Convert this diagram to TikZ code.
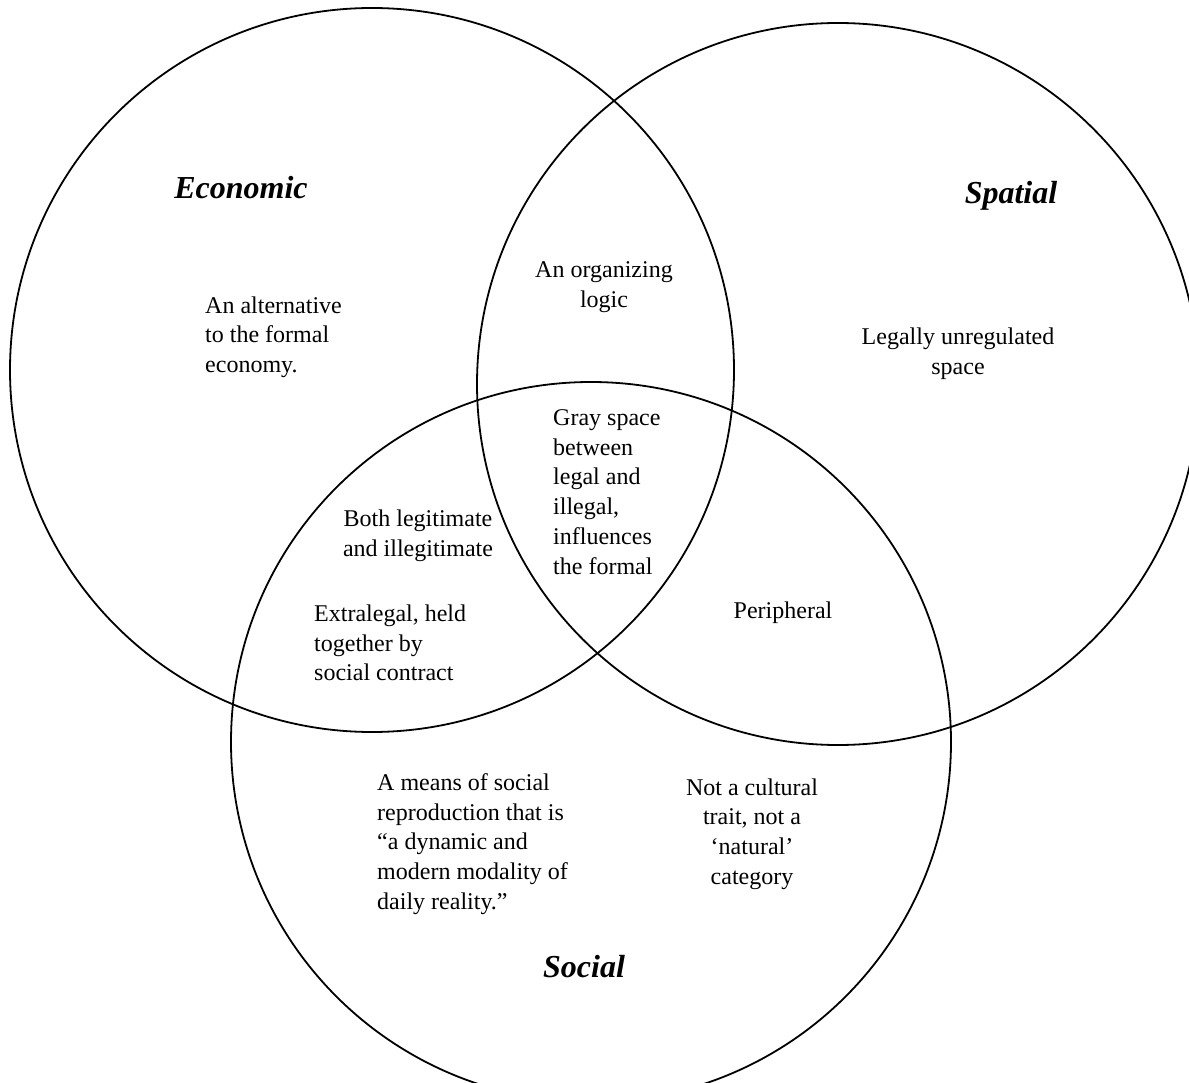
\documentclass[tikz,border=0pt]{standalone}
\usepackage{fontspec}
\setmainfont{Liberation Serif}
\begin{document}
\begin{tikzpicture}[x=1pt,y=-1pt,
  circ/.style={draw, circle, line width=1.8pt, inner sep=0pt},
  txt/.style={font=\fontsize{24}{29.7}\selectfont, inner sep=0pt},
  ttl/.style={font=\fontsize{32}{38}\selectfont\bfseries\itshape, inner sep=0pt}]
\useasboundingbox (0,0) rectangle (1189,1083);
\clip (0,0) rectangle (1189,1083);
\node[circ, minimum size=724pt] (eco) at (372,370) {};
\node[circ, minimum size=722pt] (spa) at (838,384) {};
\node[circ, minimum size=720pt] (soc) at (591,742) {};

\node[ttl] (tEco) at (241,188) {Economic};
\node[ttl] (tSpa) at (1011,196) {Spatial};
\node[ttl] (tSoc) at (584,967) {Social};

\node[txt, align=left, anchor=west] (alt) at (205,337) {An alternative\\to the formal\\economy.};
\node[txt, align=center] (org) at (604,287) {An organizing\\logic};
\node[txt, align=center] (leg) at (958,354) {Legally unregulated\\space};
\node[txt, align=left, anchor=west] (gray) at (553,492) {Gray space\\between\\legal and\\illegal,\\influences\\the formal};
\node[txt, align=center] (both) at (418,536) {Both legitimate\\and illegitimate};
\node[txt, align=left, anchor=west] (extra) at (314,643) {Extralegal, held\\together by\\social contract};
\node[txt] (peri) at (783,613) {Peripheral};
\node[txt, align=left, anchor=west] (means) at (377,844) {A means of social\\reproduction that is\\“a dynamic and\\modern modality of\\daily reality.”};
\node[txt, align=center] (notc) at (752,834) {Not a cultural\\trait, not a\\‘natural’\\category};
\end{tikzpicture}
\end{document}
